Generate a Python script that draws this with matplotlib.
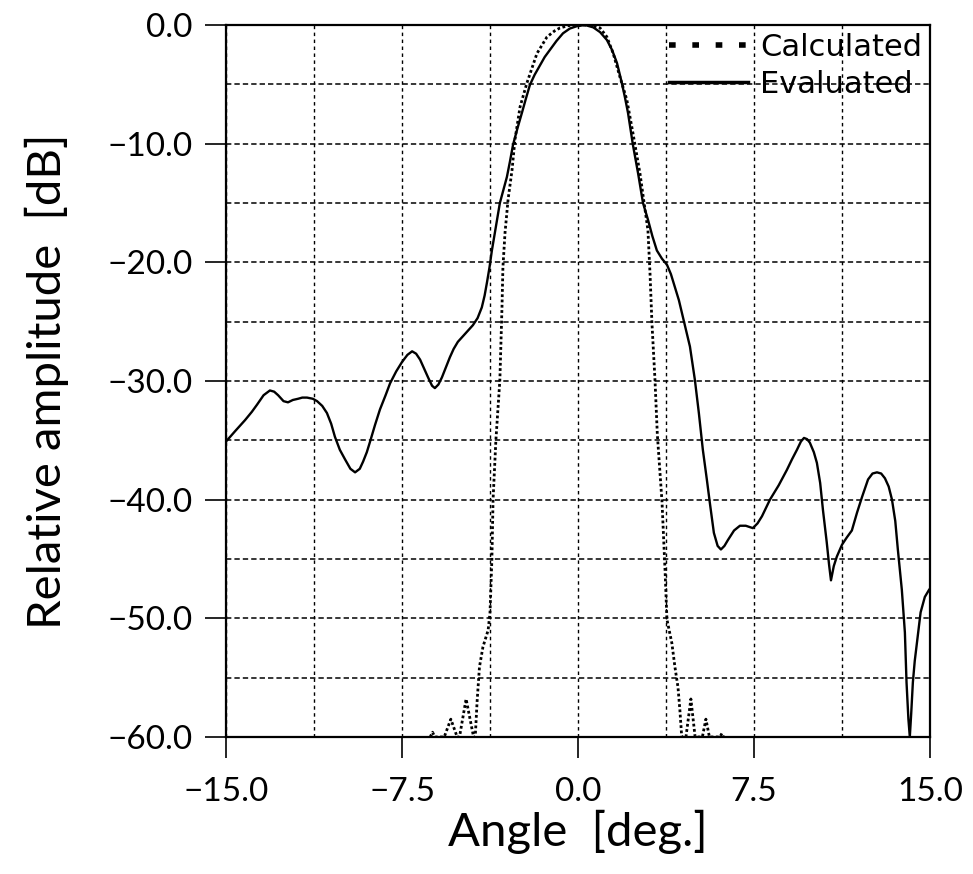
import matplotlib
matplotlib.use("Agg")
import matplotlib.pyplot as plt
from matplotlib.lines import Line2D
from matplotlib.ticker import MultipleLocator, FuncFormatter

# Measured ("Evaluated") radiation pattern, angle in deg and level in dB
eval_angle = [-15.0, -14.6, -14.19, -13.9, -13.68, -13.4, -13.13, -12.95, -12.78,
              -12.55, -12.36, -12.15, -11.93, -11.75, -11.55, -11.3, -11.12, -10.9,
              -10.7, -10.52, -10.36, -10.15, -9.93, -9.7, -9.5, -9.3, -9.16, -9.0,
              -8.86, -8.65, -8.44, -8.2, -8.01, -7.75, -7.5, -7.27, -7.07, -6.9,
              -6.73, -6.55, -6.39, -6.22, -6.1, -5.95, -5.8, -5.62, -5.46, -5.3,
              -5.12, -4.8, -4.48, -4.28, -4.1, -3.98, -3.88, -3.77, -3.67, -3.5,
              -3.33, -3.18, -3.03, -2.9, -2.77, -2.58, -2.39, -2.22, -2.05, -1.85,
              -1.62, -1.42, -1.2, -0.92, -0.64, -0.35, -0.05, 0.3, 0.65, 0.94,
              1.23, 1.45, 1.66, 1.87, 2.0, 2.13, 2.34, 2.56, 2.77, 2.98, 3.17,
              3.36, 3.58, 3.79, 3.96, 4.13, 4.3, 4.47, 4.62, 4.77, 4.98, 5.15,
              5.32, 5.49, 5.62, 5.79, 5.95, 6.09, 6.24, 6.39, 6.65, 6.9, 7.15,
              7.45, 7.65, 7.84, 8.18, 8.55, 8.9, 9.12, 9.33, 9.5, 9.63, 9.76,
              9.88, 10.05, 10.18, 10.32, 10.44, 10.6, 10.7, 10.78, 10.9, 11.03,
              11.25, 11.45, 11.67, 11.89, 12.1, 12.36, 12.55, 12.74, 12.92, 13.08,
              13.24, 13.38, 13.52, 13.63, 13.8, 13.93, 14.0, 14.08, 14.14, 14.2,
              14.27, 14.35, 14.44, 14.6, 14.78, 14.96, 15.0]
eval_db = [-35.1, -34.2, -33.3, -32.6, -32.0, -31.2, -30.8, -30.9, -31.2,
           -31.7, -31.8, -31.6, -31.5, -31.4, -31.4, -31.5, -31.7, -32.1,
           -32.7, -33.6, -34.7, -35.8, -36.6, -37.4, -37.7, -37.4, -36.8, -36.0,
           -35.1, -33.7, -32.4, -31.2, -30.2, -29.2, -28.4, -27.8, -27.5, -27.7,
           -28.2, -29.0, -29.7, -30.4, -30.6, -30.3, -29.7, -28.8, -28.0, -27.3,
           -26.7, -26.0, -25.3, -24.7, -23.8, -22.8, -21.7, -20.4, -19.0, -17.0,
           -15.0, -13.9, -12.8, -11.5, -10.1, -8.7, -7.4, -6.2, -5.05, -4.2,
           -3.4, -2.7, -2.1, -1.35, -0.7, -0.3, -0.1, 0.0, -0.2, -0.6,
           -1.26, -2.1, -3.2, -4.9, -6.1, -7.4, -10.1, -12.5, -15.0, -16.4, -17.8,
           -19.0, -19.7, -20.2, -21.0, -22.1, -23.2, -24.6, -25.8, -27.1, -29.9, -32.7,
           -35.8, -38.3, -40.3, -42.8, -43.9, -44.2, -43.9, -43.4, -42.6, -42.2, -42.2,
           -42.4, -42.0, -41.4, -40.0, -38.8, -37.5, -36.6, -35.8, -35.1, -34.8, -34.9,
           -35.2, -36.0, -36.9, -38.6, -40.9, -43.6, -45.5, -46.8, -45.6, -44.8,
           -43.8, -43.2, -42.6, -41.1, -39.8, -38.3, -37.8, -37.7, -37.8, -38.2,
           -38.9, -40.0, -41.8, -44.2, -47.6, -51.2, -55.4, -58.5, -60.0, -58.0,
           -55.4, -53.6, -52.1, -49.5, -48.2, -47.6, -47.5]

# Calculated pattern (main lobe and the first sidelobes above -60 dB)
calc_angle = [-6.3, -6.2, -6.1, -5.7, -5.42, -5.15, -5.05, -4.77, -4.45, -4.38,
              -4.3, -4.2, -4.05, -3.83, -3.75, -3.67, -3.62, -3.5, -3.33, -3.24,
              -3.2, -3.11, -2.98, -2.81, -2.69, -2.47, -2.18, -1.75, -1.32, -1.0,
              -0.77, -0.4, 0.2, 0.6, 0.94, 1.23, 1.5, 1.79, 2.08, 2.34, 2.64,
              2.98, 3.07, 3.15, 3.28, 3.38, 3.58, 3.71, 3.79, 4.0, 4.13, 4.26,
              4.34, 4.42, 4.6, 4.81, 4.99, 5.3, 5.45, 5.6, 6.05, 6.13, 6.2]
calc_db = [-60.0, -59.6, -60.0, -60.0, -58.5, -60.0, -60.0, -56.8, -60.0, -60.0,
           -57.0, -54.1, -52.4, -51.0, -49.5, -45.0, -40.0, -35.0, -29.9, -23.8,
           -20.4, -17.5, -14.7, -12.2, -9.7, -6.9, -4.9, -2.4, -1.0, -0.5,
           -0.25, -0.05, 0.0, -0.05, -0.25, -1.0, -2.4, -4.4, -6.3, -9.1, -12.5,
           -17.3, -21.0, -25.1, -29.9, -34.5, -40.2, -46.0, -50.1, -52.1, -54.1, -55.8,
           -57.7, -60.0, -60.0, -56.8, -60.0, -60.0, -58.5, -60.0, -60.0, -59.7, -60.0]

x_ticks = [-15.0, -7.5, 0.0, 7.5, 15.0]
y_ticks = [-60.0, -50.0, -40.0, -30.0, -20.0, -10.0, 0.0]


def fmt(v, pos):
    return f"{v:.1f}".replace("-", "\u2212")


plt.rcParams["font.family"] = ["Lato", "DejaVu Sans"]

fig = plt.figure(figsize=(9.73, 8.74), dpi=100)
ax = fig.add_axes([0.2323, 0.1568, 0.7235, 0.8146])

ax.plot(eval_angle, eval_db, color="black", linewidth=1.7,
        solid_joinstyle="round", solid_capstyle="round")
ax.plot(calc_angle, calc_db, color="black", linewidth=2.0, linestyle=(0, (1.0, 0.9)))

ax.set_xlim(-15, 15)
ax.set_ylim(-60, 0)
ax.set_xticks(x_ticks)
ax.set_yticks(y_ticks)
ax.xaxis.set_minor_locator(MultipleLocator(3.75))
ax.yaxis.set_minor_locator(MultipleLocator(5))
ax.xaxis.set_major_formatter(FuncFormatter(fmt))
ax.yaxis.set_major_formatter(FuncFormatter(fmt))

# dashed grid on every 3.75 deg and 5 dB
ax.xaxis.grid(True, which="both", color="black", linewidth=1.0, linestyle=(0, (2.5, 2.5)))
ax.yaxis.grid(True, which="both", color="black", linewidth=1.1, linestyle=(0, (3.5, 2.0)))
ax.set_axisbelow(True)

ax.tick_params(which="major", direction="out", length=15, width=1.2,
               labelsize=24, colors="black")
ax.tick_params(axis="x", which="major", pad=14)
ax.tick_params(axis="y", which="major", pad=9)
ax.tick_params(which="minor", length=0)

for s in ax.spines.values():
    s.set_linewidth(1.6)

ax.set_xlabel("Angle  [deg.]", fontsize=34, labelpad=2)
ax.set_ylabel("Relative amplitude  [dB]", fontsize=34, labelpad=28)

handles = [Line2D([], [], color="black", linewidth=4, linestyle=(0, (1.2, 3.0))),
           Line2D([], [], color="black", linewidth=2.5)]
ax.legend(handles, ["Calculated", "Evaluated"], loc="upper right", frameon=False,
          prop={"family": "DejaVu Sans", "size": 22}, handlelength=2.6,
          handletextpad=0.4, labelspacing=0.28, borderaxespad=0.2,
          borderpad=0.05)

fig.savefig("out.png", dpi=100)
